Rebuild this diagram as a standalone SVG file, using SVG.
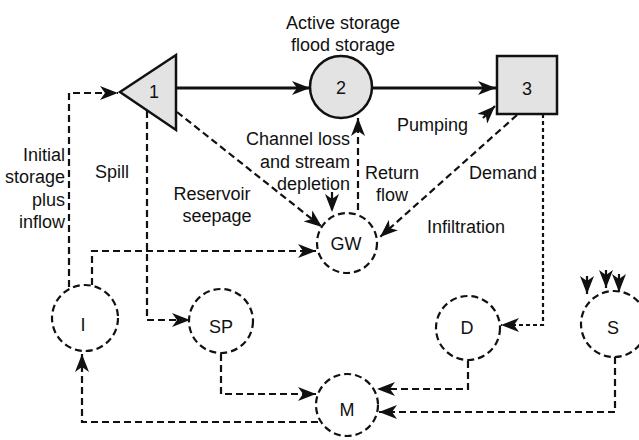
<svg xmlns="http://www.w3.org/2000/svg" width="639" height="440" viewBox="0 0 639 440">
<style>
text{font-family:"Liberation Sans",Arial,sans-serif;font-size:18px;fill:#111}
.c{text-anchor:middle}
.r{text-anchor:end}
.solid{fill:none;stroke:#111;stroke-width:3}
.dash{fill:none;stroke:#111;stroke-width:2.2;stroke-dasharray:7 4}
.dot{fill:none;stroke:#111;stroke-width:2.2;stroke-dasharray:4 3}
.node{fill:#fff;stroke:#111;stroke-width:2.2;stroke-dasharray:7 4}
.grey{fill:#e3e3e3;stroke:#111;stroke-width:2.5}
</style>
<defs>
<marker id="ah" markerUnits="userSpaceOnUse" markerWidth="19" markerHeight="14" refX="18" refY="7" orient="auto">
<path d="M0,0 L18,7 L0,14 L5,7 z" fill="#111"/>
</marker>
</defs>
<rect width="639" height="440" fill="#fff"/>
<g id="connectors">
<path class="solid" d="M176,88 H310" marker-end="url(#ah)"/>
<path class="solid" d="M372,88 H496" marker-end="url(#ah)"/>
<path class="dash" d="M69,287 V93 H118" marker-end="url(#ah)"/>
<path class="dash" d="M92,285 V251 H316" marker-end="url(#ah)"/>
<path class="dash" d="M147,111 V320 H190" marker-end="url(#ah)"/>
<path class="dash" d="M177,112 L322,227" marker-end="url(#ah)"/>
<path class="dash" d="M332,192 L332,212" marker-end="url(#ah)"/>
<path class="dash" d="M358,210 V118" marker-end="url(#ah)"/>
<path class="dash" d="M483,118 L495,106" marker-end="url(#ah)"/>
<path class="dash" d="M517,115 L380,237" marker-end="url(#ah)"/>
<path class="dot" d="M543,114 V325 H501" marker-end="url(#ah)"/>
<path class="dash" d="M221,354 V394 H316" marker-end="url(#ah)"/>
<path class="dash" d="M468,361 V389 H377" marker-end="url(#ah)"/>
<path class="dash" d="M615,357 V412 H379" marker-end="url(#ah)"/>
<path class="dash" d="M318,422 H82 V354" marker-end="url(#ah)"/>
<path class="dash" d="M587,276 V294" marker-end="url(#ah)"/>
<path class="dash" d="M606,270 V288" marker-end="url(#ah)"/>
<path class="dash" d="M619,274 V292" marker-end="url(#ah)"/>
</g>
<g id="n1"><polygon class="grey" points="120,92 176,55 176,130"/><text class="c" x="154" y="98">1</text></g>
<g id="n2"><circle class="grey" cx="341" cy="87" r="31"/><text class="c" x="341" y="94">2</text></g>
<g id="n3"><rect class="grey" x="497" y="56" width="60" height="58" stroke-width="3"/><text class="c" x="527" y="95">3</text></g>
<g id="nGW"><circle class="node" cx="347" cy="243" r="30"/><text class="c" x="346" y="250">GW</text></g>
<g id="nI"><circle class="node" cx="85" cy="318" r="33"/><text class="c" x="83" y="331">I</text></g>
<g id="nSP"><circle class="node" cx="221" cy="321" r="32"/><text class="c" x="221" y="333">SP</text></g>
<g id="nD"><circle class="node" cx="468" cy="328" r="32"/><text class="c" x="467" y="334">D</text></g>
<g id="nS"><circle class="node" cx="614" cy="324" r="33"/><text class="c" x="613" y="334">S</text></g>
<g id="nM"><circle class="node" cx="347" cy="405" r="31"/><text class="c" x="347" y="416">M</text></g>
<g id="labels">
<text class="c" x="343" y="29">Active storage</text>
<text class="c" x="343" y="51">flood storage</text>
<text class="r" x="65" y="161">Initial</text>
<text class="r" x="65" y="183">storage</text>
<text class="r" x="65" y="206">plus</text>
<text class="r" x="65" y="228">inflow</text>
<text class="c" x="112" y="178">Spill</text>
<text class="c" x="212" y="200">Reservoir</text>
<text class="c" x="217" y="222">seepage</text>
<text class="r" x="350" y="145">Channel loss</text>
<text class="r" x="350" y="168">and stream</text>
<text class="r" x="350" y="190">depletion</text>
<text class="c" x="392" y="179">Return</text>
<text class="c" x="392" y="201">flow</text>
<text x="397" y="131">Pumping</text>
<text x="469" y="179">Demand</text>
<text x="427" y="233">Infiltration</text>
</g>
</svg>
